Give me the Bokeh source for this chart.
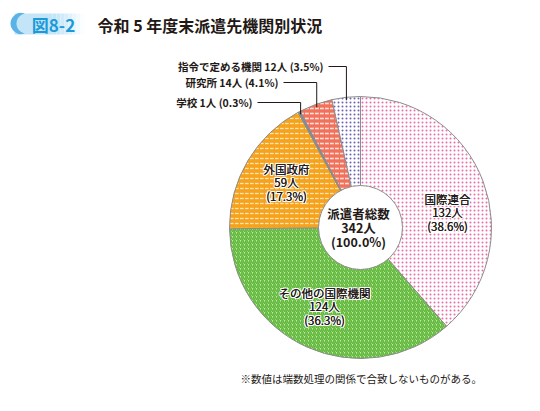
import numpy as np
from bokeh.plotting import figure
from bokeh.models import ColumnDataSource, Range1d
from bokeh.core.properties import value
from bokeh.embed import file_html
from bokeh.resources import INLINE

# data
categories = ["国際連合", "その他の国際機関", "外国政府", "学校", "研究所", "指令で定める機関"]
counts = [132, 124, 59, 1, 14, 12]
percents = ["38.6%", "36.3%", "17.3%", "0.3%", "4.1%", "3.5%"]
total_lines = ["派遣者総数", "342人", "(100.0%)"]
title = "令和 5 年度末派遣先機関別状況"
badge = "図8-2"
note = "※数値は端数処理の関係で合致しないものがある。"

FONT = "Noto Sans CJK JP"
TOP = 403  # flip page y into data y


def Y(yp):
    return TOP - yp


p = figure(width=524, height=395, x_range=Range1d(0, 524), y_range=Range1d(TOP - 395, TOP),
           output_backend="svg", toolbar_location=None, tools="",
           x_axis_type=None, y_axis_type=None, min_border=0)
p.grid.visible = False
p.outline_line_color = None
p.background_fill_color = "white"
p.border_fill_color = "white"

# ---- header badge (fake gradient) ----
grad = ["#c4e5f8", "#c9e7f9", "#d0eafa", "#d8eefb", "#e1f2fc", "#eaf6fd", "#f3fafe", "#fbfdff"]
p.quad(left=14, right=52, bottom=Y(34), top=Y(13), fill_color=grad[0], line_color=None)
for i, c in enumerate(grad):
    p.quad(left=52 + i * 4, right=56 + i * 4, bottom=Y(34), top=Y(13), fill_color=c, line_color=None)
t = np.linspace(np.pi * 0.55, np.pi * 1.45, 20)
outer_x = list(22 + 12 * np.cos(t))
outer_y = list(Y(23) + 11 * np.sin(t))
inner_x = list(26 + 10 * np.cos(t[::-1]))
inner_y = list(Y(23) + 10 * np.sin(t[::-1]))
p.patch(outer_x + inner_x, outer_y + inner_y, fill_color="#5ab3e6", line_color=None)
p.text(x=[53], y=[Y(24)], text=[badge], text_align="center", text_baseline="middle",
       text_font=value(FONT), text_font_size="17px", text_font_style="bold", text_color="#1b9ad8")
p.text(x=[97], y=[Y(24)], text=[title], text_align="left", text_baseline="middle",
       text_font=value(FONT), text_font_size="16px", text_font_style="bold", text_color="#231815")

# ---- pie ----
cx, cy, R, r_in = 360, Y(227), 131, 42
vals = np.array(counts, dtype=float)
frac = vals / vals.sum()
cum = np.concatenate([[0], np.cumsum(frac)])
starts = np.pi / 2 - 2 * np.pi * cum[:-1]
ends = np.pi / 2 - 2 * np.pi * cum[1:]
mids = (starts + ends) / 2

styles = [
    dict(fill_color="white", hatch_pattern="dot", hatch_color="#ec6aa6", hatch_scale=4, hatch_weight=2),
    dict(fill_color="#bfe6a4", hatch_pattern="right_diagonal_line", hatch_color="#5fb83a", hatch_scale=4, hatch_weight=1.6),
    dict(fill_color="#f5a21d", hatch_pattern="horizontal_dash", hatch_color="#fde3b8", hatch_scale=5, hatch_weight=1.3),
    dict(fill_color="#7a8ca2", hatch_pattern="blank", hatch_color="white", hatch_scale=5, hatch_weight=1),
    dict(fill_color="#f0725c", hatch_pattern="horizontal_dash", hatch_color="#fde0da", hatch_scale=5, hatch_weight=1.6),
    dict(fill_color="white", hatch_pattern="dot", hatch_color="#6c62b3", hatch_scale=4, hatch_weight=2.2),
]
for i, cat in enumerate(categories):
    src = ColumnDataSource(dict(start=[starts[i]], end=[ends[i]], cat=[cat]))
    p.wedge(x=cx, y=cy, radius=R, start_angle="start", end_angle="end", direction="clock",
            line_color="#8c8c8c", line_width=1, source=src, **styles[i])

p.circle(x=[cx], y=[cy], radius=r_in, fill_color="white", line_color="#8c8c8c", line_width=1)


def halo_text(x, y, text, size, style="normal"):
    # white halo made from offset copies, then the dark text (twice, to keep it dark)
    for dx, dy in [(-1, 0), (1, 0), (0, -1), (0, 1), (-1, -1), (1, 1), (-1, 1), (1, -1)]:
        p.text(x=[v + dx for v in x], y=[v + dy for v in y], text=text, text_align="center",
               text_baseline="middle", text_font=value(FONT), text_font_size=size,
               text_font_style=style, text_color="white")
    for _ in range(2):
        p.text(x=x, y=y, text=text, text_align="center", text_baseline="middle",
               text_font=value(FONT), text_font_size=size, text_font_style=style,
               text_color="#231815")


# ---- labels inside slices ----
inside = {0: (447, 198), 1: (324, 292), 2: (286, 168)}
for i, (lx, ly) in inside.items():
    lines = [categories[i], f"{counts[i]}人", f"({percents[i]})"]
    ys = [Y(ly + k * 13.5) for k in range(3)]
    halo_text([lx] * 3, ys, lines, "11.5px")

p.text(x=[358] * 3, y=[Y(213), Y(227), Y(241)], text=total_lines, text_align="center",
       text_baseline="middle", text_font=value(FONT), text_font_size="12.5px",
       text_font_style="bold", text_color="#231815")

# ---- leader labels for small slices ----
outside = {5: (323, 66), 4: (278, 82), 3: (252, 102)}
for i, (tx, ty) in outside.items():
    px = cx + (R - 3) * np.cos(mids[i])
    py = cy + (R - 3) * np.sin(mids[i])
    p.line(x=[tx + 5, px, px], y=[Y(ty), Y(ty), py], line_color="#231815", line_width=1)
    p.text(x=[tx], y=[Y(ty)], text=[f"{categories[i]} {counts[i]}人 ({percents[i]})"],
           text_align="right", text_baseline="middle", text_font=value(FONT),
           text_font_size="10.5px", text_font_style="bold", text_color="#231815")

p.text(x=[240], y=[Y(378)], text=[note], text_align="left", text_baseline="middle",
       text_font=value(FONT), text_font_size="10.5px", text_color="#231815")

open("out.html", "w").write(file_html(p, INLINE))
